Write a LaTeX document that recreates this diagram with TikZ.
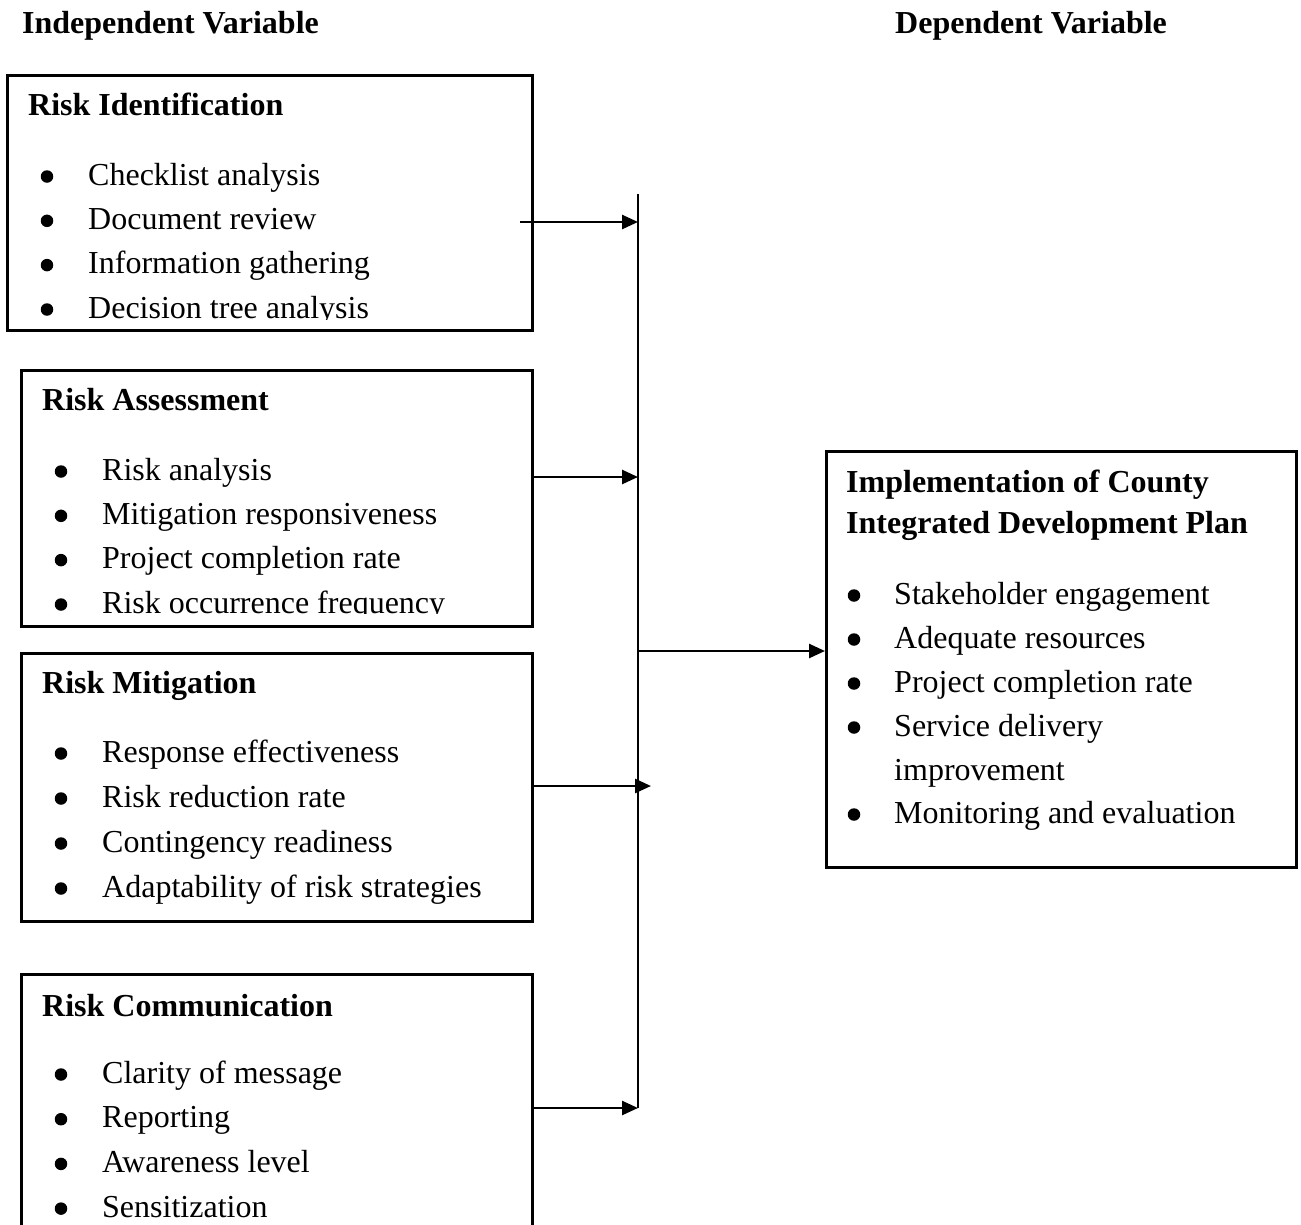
\documentclass[tikz,border=0pt]{standalone}
\usepackage{fontspec}
\setmainfont{Liberation Serif}
\usetikzlibrary{arrows.meta}
\begin{document}
\begin{tikzpicture}[x=1pt,y=-1pt,
  box/.style={draw, line width=2.5pt, inner sep=0pt, anchor=north west},
  txt/.style={anchor=base west, inner sep=0pt, font=\fontsize{32}{38}\selectfont},
  hd/.style={anchor=base west, inner sep=0pt, font=\fontsize{32}{38}\selectfont\bfseries},
  bul/.style={circle, fill, inner sep=0pt, minimum size=12.5pt},
  arr/.style={line width=2.6pt, -{Triangle[length=16pt,width=14pt]}},
  vline/.style={line width=1.5pt}]
\clip (0,0) rectangle (1301,1224);
% headers
\node[hd] (hind) at (22,33) {Independent Variable};
\node[hd] (hdep) at (895,33) {Dependent Variable};
% box 1
\node[box, minimum width=525pt, minimum height=255pt] (b1) at (6,74) {};
\node[hd] (t1) at (28,115) {Risk Identification};
\foreach \t [count=\i] in {Checklist analysis, Document review, Information gathering}{
  \node[bul] (b1u\i) at (47,{185+(\i-1)*44.3-8.5}) {};
  \node[txt] (b1i\i) at (88,{185+(\i-1)*44.3}) {\t};
}
\node[bul] (b1u4) at (47,309.5) {};
\begin{scope}
\clip (8,290) rectangle (529,319);
\node[txt] (b1i4) at (88,318) {Decision tree analysis};
\end{scope}
% box 2
\node[box, minimum width=511pt, minimum height=256pt] (b2) at (20,369) {};
\node[hd] (t2) at (42,410) {Risk Assessment};
\foreach \t [count=\i] in {Risk analysis, Mitigation responsiveness, Project completion rate}{
  \node[bul] (b2u\i) at (61,{480+(\i-1)*44.3-8.5}) {};
  \node[txt] (b2i\i) at (102,{480+(\i-1)*44.3}) {\t};
}
\node[bul] (b2u4) at (61,604.5) {};
\begin{scope}
\clip (22,585) rectangle (529,613.5);
\node[txt] (b2i4) at (102,613) {Risk occurrence frequency};
\end{scope}
% box 3
\node[box, minimum width=511pt, minimum height=268pt] (b3) at (20,652) {};
\node[hd] (t3) at (42,693) {Risk Mitigation};
\foreach \t [count=\i] in {Response effectiveness, Risk reduction rate, Contingency readiness, Adaptability of risk strategies}{
  \node[bul] (b3u\i) at (61,{762+(\i-1)*45-8.5}) {};
  \node[txt] (b3i\i) at (102,{762+(\i-1)*45}) {\t};
}
% box 4
\node[box, minimum width=511pt, minimum height=290pt] (b4) at (20,973) {};
\node[hd] (t4) at (42,1016) {Risk Communication};
\foreach \t [count=\i] in {Clarity of message, Reporting, Awareness level, Sensitization}{
  \node[bul] (b4u\i) at (61,{1083+(\i-1)*44.7-8.5}) {};
  \node[txt] (b4i\i) at (102,{1083+(\i-1)*44.7}) {\t};
}
% dependent box
\node[box, minimum width=470pt, minimum height=416pt] (dep) at (825,450) {};
\node[hd] (td1) at (846,492) {Implementation of County};
\node[hd] (td2) at (846,533) {Integrated Development Plan};
\foreach \t/\yy [count=\i] in {Stakeholder engagement/604, Adequate resources/648, Project completion rate/692, Service delivery/736, Monitoring and evaluation/823}{
  \node[bul] (du\i) at (854,{\yy-8.5}) {};
  \node[txt] (di\i) at (894,\yy) {\t};
}
\node[txt] (di6) at (894,780) {improvement};
% connectors
\coordinate (vtop) at (638,194);
\coordinate (v1) at (638,222);
\coordinate (v2) at (638,477);
\coordinate (v3) at (651,786);
\coordinate (vc) at (638,651);
\coordinate (v4) at (638,1108);
\coordinate (s1) at (520,222);
\draw[vline] (vtop) -- (v4);
\draw[arr] (s1) -- (v1);
\draw[arr] (b2.east |- v2) -- (v2);
\draw[arr] (b3.east |- v3) -- (v3);
\draw[arr] (b4.east |- v4) -- (v4);
\draw[arr] (vc) -- (dep.west |- vc);
\end{tikzpicture}
\end{document}
